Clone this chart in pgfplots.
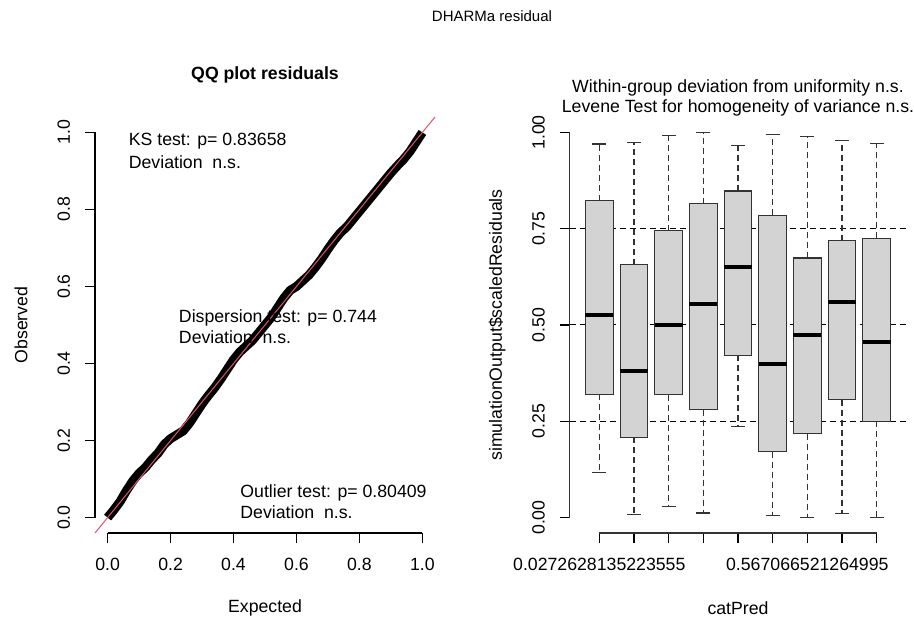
\documentclass[border=0pt]{standalone}
\usepackage{fontspec}
\setmainfont{Liberation Sans}
\usepackage{pgfplots}
\pgfplotsset{compat=1.18}
\usepgfplotslibrary{statistics}
\definecolor{rred}{HTML}{DF536B}
\definecolor{boxfill}{HTML}{D3D3D3}
\newcommand{\rfont}{\fontsize{17.7}{21}\selectfont}

\pgfplotstableread{
e o
0.00 0.000
0.02 0.020
0.04 0.042
0.06 0.070
0.08 0.095
0.10 0.115
0.12 0.130
0.14 0.150
0.16 0.167
0.18 0.190
0.20 0.205
0.22 0.215
0.24 0.225
0.26 0.245
0.28 0.270
0.30 0.295
0.32 0.317
0.34 0.337
0.36 0.360
0.38 0.385
0.40 0.410
0.42 0.430
0.44 0.445
0.46 0.460
0.48 0.480
0.50 0.500
0.52 0.520
0.54 0.545
0.56 0.570
0.58 0.590
0.60 0.600
0.62 0.615
0.64 0.630
0.66 0.650
0.68 0.672
0.70 0.697
0.72 0.720
0.74 0.740
0.76 0.755
0.78 0.775
0.80 0.795
0.82 0.815
0.84 0.835
0.86 0.855
0.88 0.875
0.90 0.895
0.92 0.913
0.94 0.930
0.96 0.950
0.98 0.975
1.00 1.000
}\qqdata

\begin{document}
\begin{tikzpicture}
\useasboundingbox (0pt,0pt) rectangle (914pt,622pt);
\pgfplotsset{
 rstyle/.style={
  scale only axis, clip=false,
  axis x line*=bottom, axis y line*=left,
  axis line style={draw=none},
  tick align=outside, major tick length=10pt,
  tick style={black, line width=1.1pt},
  ymin=-0.04, ymax=1.04,
  tick label style={font=\rfont, /pgf/number format/assume math mode=true},
  yticklabel style={rotate=90, anchor=base},
  xticklabel style={anchor=north},
  yticklabel shift=15pt, xticklabel shift=12pt,
 }
}

% overall title
\node[anchor=base, inner sep=0pt, font=\fontsize{15}{18}\selectfont] at (492pt,600pt) {DHARMa residual};

% ---------- left: QQ plot ----------
\begin{axis}[rstyle,
  at={(95pt,89pt)}, anchor=south west, width=340pt, height=416pt,
  xmin=-0.04, xmax=1.04,
  xtick={0,0.2,0.4,0.6,0.8,1}, ytick={0,0.2,0.4,0.6,0.8,1},
  xticklabel style={/pgf/number format/.cd, fixed, fixed zerofill, precision=1},
  yticklabel style={/pgf/number format/.cd, fixed, fixed zerofill, precision=1},
  xlabel={Expected}, ylabel={Observed},
  every axis x label/.style={at={(axis description cs:0.5,-0.1803)}, anchor=center, font=\rfont},
  every axis y label/.style={at={(axis description cs:-0.2176,0.5)}, rotate=90, anchor=center, font=\rfont},
]
\draw[line width=1.1pt] (axis cs:0,-0.04) -- (axis cs:1,-0.04);
\draw[line width=1.1pt] (axis cs:-0.04,0) -- (axis cs:-0.04,1);
\addplot[black, line width=9pt, line join=round] table[x=e, y=o] {\qqdata};
\addplot[rred, line width=1pt] coordinates {(-0.04,-0.04) (1.04,1.04)};
\node[anchor=base west, inner sep=0pt, font=\rfont] at (axis cs:0.0669,0.966) {KS test: p= 0.83658};
\node[anchor=base west, inner sep=0pt, font=\rfont] at (axis cs:0.0669,0.907) {Deviation\ \ n.s.};
\node[anchor=base west, inner sep=0pt, font=\rfont] at (axis cs:0.2261,0.507) {Dispersion test: p= 0.744};
\node[anchor=base west, inner sep=0pt, font=\rfont] at (axis cs:0.2261,0.451) {Deviation\ \ n.s.};
\node[anchor=base west, inner sep=0pt, font=\rfont] at (axis cs:0.4214,0.0528) {Outlier test: p= 0.80409};
\node[anchor=base west, inner sep=0pt, font=\rfont] at (axis cs:0.4214,-0.0035) {Deviation\ \ n.s.};
\end{axis}
\node[anchor=base, inner sep=0pt, font=\rfont\bfseries] at (265pt,542.7pt) {QQ plot residuals};

% ---------- right: boxplots ----------
\begin{axis}[rstyle,
  at={(569.5pt,89pt)}, anchor=south west, width=337pt, height=416pt,
  xmin=0.14, xmax=9.86,
  xtick={1,2,3,4,5,6,7,8,9},
  xticklabels={0.0272628135223555,,,,,,0.567066521264995,,},
  ytick={0,0.25,0.5,0.75,1},
  yticklabel style={/pgf/number format/.cd, fixed, fixed zerofill, precision=2},
  xlabel={catPred}, ylabel={simulationOutput\$scaledResiduals},
  every axis x label/.style={at={(axis description cs:0.5,-0.1803)}, anchor=center, font=\rfont},
  every axis y label/.style={at={(axis description cs:-0.2148,0.5)}, rotate=90, anchor=center, font=\rfont},
  boxplot/draw direction=y,
  boxplot/box extend=0.8, boxplot/whisker extend=0.4,
  boxplot/every whisker/.style={dash pattern=on 6pt off 4pt},
  boxplot/every median/.style={line width=4pt, black},
  boxplot/draw/lower whisker/.code={%
    \draw[/pgfplots/boxplot/every whisker/.try]
      (boxplot box cs:\pgfplotsboxplotvalue{lower quartile},0.5) --
      (boxplot box cs:\pgfplotsboxplotvalue{lower whisker},0.5);
    \draw[solid]
      (boxplot whisker cs:\pgfplotsboxplotvalue{lower whisker},0) --
      (boxplot whisker cs:\pgfplotsboxplotvalue{lower whisker},1);
  },
  boxplot/draw/upper whisker/.code={%
    \draw[/pgfplots/boxplot/every whisker/.try]
      (boxplot box cs:\pgfplotsboxplotvalue{upper quartile},0.5) --
      (boxplot box cs:\pgfplotsboxplotvalue{upper whisker},0.5);
    \draw[solid]
      (boxplot whisker cs:\pgfplotsboxplotvalue{upper whisker},0) --
      (boxplot whisker cs:\pgfplotsboxplotvalue{upper whisker},1);
  },
]
\draw[line width=1.1pt, black!80] (axis cs:1,-0.04) -- (axis cs:9,-0.04);
\draw[line width=1.1pt, black!80] (axis cs:0.14,0) -- (axis cs:0.14,1);
\addplot[black, line width=1pt, dash pattern=on 6pt off 4pt] coordinates {(0.14,0.25) (9.86,0.25)};
\addplot[black, line width=1pt, dash pattern=on 6pt off 4pt] coordinates {(0.14,0.5) (9.86,0.5)};
\addplot[black, line width=1pt, dash pattern=on 6pt off 4pt] coordinates {(0.14,0.75) (9.86,0.75)};
\addplot[draw=black!80, fill=boxfill, line width=1.1pt, boxplot prepared={draw position=1, lower whisker=0.117, lower quartile=0.320, median=0.525, upper quartile=0.823, upper whisker=0.970}] coordinates {};
\addplot[draw=black!80, fill=boxfill, line width=1.1pt, boxplot prepared={draw position=2, lower whisker=0.009, lower quartile=0.208, median=0.380, upper quartile=0.656, upper whisker=0.974}] coordinates {};
\addplot[draw=black!80, fill=boxfill, line width=1.1pt, boxplot prepared={draw position=3, lower whisker=0.028, lower quartile=0.319, median=0.499, upper quartile=0.745, upper whisker=0.992}] coordinates {};
\addplot[draw=black!80, fill=boxfill, line width=1.1pt, boxplot prepared={draw position=4, lower whisker=0.012, lower quartile=0.280, median=0.554, upper quartile=0.815, upper whisker=0.999}] coordinates {};
\addplot[draw=black!80, fill=boxfill, line width=1.1pt, boxplot prepared={draw position=5, lower whisker=0.236, lower quartile=0.421, median=0.651, upper quartile=0.848, upper whisker=0.967}] coordinates {};
\addplot[draw=black!80, fill=boxfill, line width=1.1pt, boxplot prepared={draw position=6, lower whisker=0.005, lower quartile=0.171, median=0.400, upper quartile=0.785, upper whisker=0.995}] coordinates {};
\addplot[draw=black!80, fill=boxfill, line width=1.1pt, boxplot prepared={draw position=7, lower whisker=0.000, lower quartile=0.218, median=0.475, upper quartile=0.674, upper whisker=0.989}] coordinates {};
\addplot[draw=black!80, fill=boxfill, line width=1.1pt, boxplot prepared={draw position=8, lower whisker=0.010, lower quartile=0.306, median=0.559, upper quartile=0.719, upper whisker=0.980}] coordinates {};
\addplot[draw=black!80, fill=boxfill, line width=1.1pt, boxplot prepared={draw position=9, lower whisker=0.000, lower quartile=0.250, median=0.456, upper quartile=0.725, upper whisker=0.971}] coordinates {};
\end{axis}
\node[anchor=base, inner sep=0pt, font=\rfont] at (738pt,529.7pt) {Within-group deviation from uniformity n.s.};
\node[anchor=base, inner sep=0pt, font=\rfont] at (738pt,509.7pt) {Levene Test for homogeneity of variance n.s.};
\end{tikzpicture}
\end{document}
